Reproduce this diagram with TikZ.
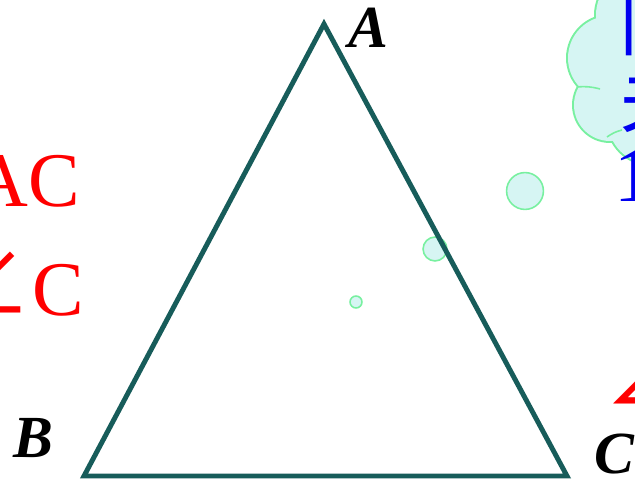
\documentclass[tikz,border=0pt]{standalone}
\usepackage{fontspec}
\setmainfont{Liberation Serif}
\newfontfamily\cjk{Noto Sans CJK SC}
\definecolor{trigreen}{RGB}{23, 92, 90}
\definecolor{bubfill}{RGB}{214, 245, 243}
\definecolor{bubline}{RGB}{120, 240, 160}
\definecolor{hintblue}{RGB}{0, 0, 240}
\newcommand{\ang}{{\cjk\fontsize{52}{52}\selectfont ∠}}

\begin{document}
\begin{tikzpicture}[x=0.02cm, y=-0.02cm,
  vlabel/.style={font=\fontsize{34}{34}\selectfont\bfseries\itshape, inner sep=0pt, anchor=base west},
  redtxt/.style={font=\fontsize{44}{44}\selectfont, text=red, inner sep=0pt},
  bluetxt/.style={font=\fontsize{44}{44}\selectfont, text=hintblue, inner sep=0pt, anchor=base west},
  bubble/.style={circle, draw=bubline, fill=bubfill, line width=0.9pt, inner sep=0pt},
]
  \useasboundingbox (0,0) rectangle (635,482);
  \clip (0,0) rectangle (635,482);
  % thought cloud, built from overlapping puffs
  \foreach \cx/\cy/\r in {640/15/45, 610/58/43, 610/105/37, 651/121/44, 700/75/70}
    \fill[bubline] (\cx,\cy) circle[radius=\r+1];
  \foreach \cx/\cy/\r in {640/15/45, 610/58/43, 610/105/37, 651/121/44, 700/75/70}
    \fill[bubfill] (\cx,\cy) circle[radius=\r-1];
  \draw[bubline, line width=0.9pt] (577,87) to[bend left=10] (600,89);
  \draw[bubline, line width=0.9pt] (607,137) to[bend left=10] (622,130);
  \node[bluetxt, font=\fontsize{44}{44}\selectfont\cjk] (q1) at (619,50) {同};
  \node[bluetxt, font=\fontsize{44}{44}\selectfont\cjk] (q2) at (619,127) {关};
  \node[bluetxt] (q3) at (614,202) {1};
  % bubbles
  \node[bubble, minimum size=37pt*0.567] (b1) at (525,191) {};
  \node[bubble, minimum size=24pt*0.567] (b2) at (435,249) {};
  \node[bubble, minimum size=12pt*0.567] (b3) at (356,302) {};
  % triangle
  \coordinate (A) at (324,24);
  \coordinate (B) at (84,476);
  \coordinate (C) at (567,476);
  \draw[trigreen, line width=2.8pt, line join=miter] (A) -- (B) -- (C) -- cycle;
  \node[vlabel] (la) at (348,48) {A};
  \node[vlabel] (lb) at (13,458) {B};
  \node[vlabel] (lc) at (594,473) {C};
  % red hints
  \node[redtxt, anchor=base east] (r1) at (80,207) {AC};
  \node[redtxt, anchor=base east] (r2) at (84,316) {\ang C};
  \node[redtxt, anchor=base west] (r3) at (604,406) {\ang C};
\end{tikzpicture}
\end{document}
